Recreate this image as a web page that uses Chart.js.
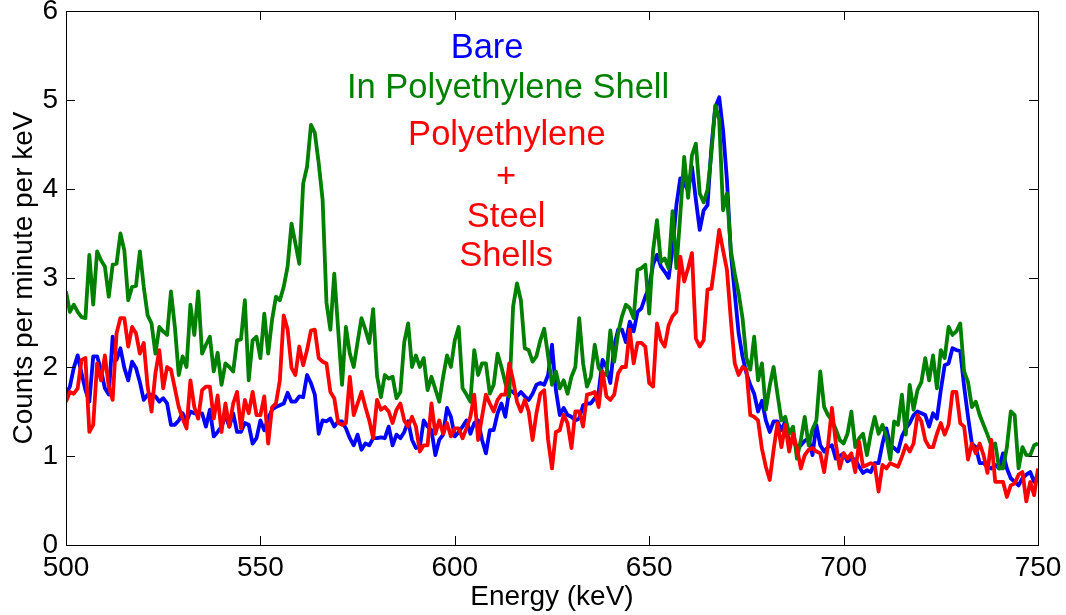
<!DOCTYPE html>
<html lang="en">
<head>
<meta charset="UTF-8">
<title>Gamma spectrum around 662 keV</title>
<script src="https://cdn.jsdelivr.net/npm/chart.js"></script>
<style>
    body { margin: 0; background: #ffffff; }
    #wrap { width: 1066px; height: 615px; }
</style>
</head>
<body>
<div id="wrap"><canvas id="spectrum" width="1066" height="615"></canvas></div>
<script>
// energy channels, 1 keV wide
const energies = Array.from({ length: 251 }, (_, i) => 500 + i);

// counts per minute per keV, one value per channel (500 ... 750 keV)
const bare = [
    1.70, 1.78, 1.99, 2.13, 1.93, 1.74, 1.61, 2.12, 2.12, 1.97,
    1.76, 1.69, 2.34, 2.08, 2.21, 1.99, 1.85, 2.06, 1.99, 1.83,
    1.63, 1.69, 1.69, 1.67, 1.61, 1.65, 1.59, 1.35, 1.35, 1.40,
    1.48, 1.39, 1.50, 1.48, 1.48, 1.48, 1.33, 1.52, 1.22, 1.27,
    1.33, 1.46, 1.33, 1.48, 1.27, 1.27, 1.37, 1.35, 1.14, 1.20,
    1.40, 1.29, 1.42, 1.52, 1.55, 1.57, 1.59, 1.71, 1.61, 1.61,
    1.67, 1.66, 1.91, 1.82, 1.69, 1.25, 1.40, 1.39, 1.42, 1.33,
    1.39, 1.39, 1.31, 1.20, 1.12, 1.24, 1.07, 1.14, 1.12, 1.20,
    1.20, 1.21, 1.20, 1.33, 1.12, 1.24, 1.20, 1.27, 1.39, 1.18,
    1.09, 1.10, 1.40, 1.33, 1.29, 1.01, 1.18, 1.24, 1.54, 1.44,
    1.22, 1.27, 1.33, 1.40, 1.25, 1.37, 1.40, 1.18, 1.03, 1.29,
    1.29, 1.48, 1.59, 1.44, 1.74, 1.72, 1.67, 1.72, 1.67, 1.63,
    1.70, 1.80, 1.82, 1.80, 1.91, 2.25, 1.74, 1.46, 1.54, 1.46,
    1.44, 1.40, 1.42, 1.57, 1.59, 1.59, 1.65, 1.72, 2.08, 2.00,
    1.82, 2.23, 2.42, 2.42, 2.28, 2.51, 2.40, 2.62, 2.66, 2.79,
    2.90, 3.15, 3.26, 3.13, 3.07, 3.00, 3.33, 3.82, 4.12, 4.06,
    3.99, 4.25, 3.88, 3.54, 3.76, 3.82, 4.47, 4.92, 5.03, 4.66,
    4.10, 3.28, 2.83, 2.38, 2.12, 1.93, 1.80, 1.70, 1.50, 1.62,
    1.40, 1.27, 1.39, 1.39, 1.29, 1.39, 1.14, 1.18, 1.09, 1.12,
    1.17, 1.20, 1.01, 1.35, 1.12, 1.05, 1.10, 1.12, 0.97, 1.00,
    1.03, 0.94, 0.97, 0.96, 0.88, 0.81, 0.84, 0.82, 0.92, 0.92,
    1.14, 1.31, 1.12, 1.09, 1.05, 1.22, 1.31, 1.37, 1.46, 1.50,
    1.48, 1.46, 1.33, 1.48, 1.42, 1.74, 2.02, 2.04, 2.21, 2.19,
    2.18, 1.78, 1.44, 1.14, 1.10, 0.92, 0.92, 0.88, 0.86, 0.90,
    0.86, 1.03, 0.86, 0.75, 0.71, 0.67, 0.75, 0.79, 0.82, 0.71,
    0.79
];

const polyShell = [
    2.85, 2.62, 2.70, 2.62, 2.56, 2.55, 3.26, 2.70, 3.30, 3.20,
    3.13, 2.79, 3.15, 3.16, 3.50, 3.31, 2.75, 2.90, 2.91, 3.30,
    2.90, 2.58, 2.49, 2.15, 2.45, 2.40, 2.36, 2.85, 2.45, 1.91,
    2.12, 2.00, 2.70, 2.36, 2.85, 2.15, 2.25, 2.34, 1.95, 2.16,
    1.80, 2.04, 2.00, 1.95, 2.30, 2.31, 2.75, 1.85, 2.30, 2.34,
    2.10, 2.60, 2.15, 2.53, 2.79, 2.75, 2.90, 3.13, 3.61, 3.39,
    3.16, 4.06, 4.25, 4.72, 4.63, 4.29, 3.88, 2.72, 2.42, 3.05,
    2.42, 1.80, 2.45, 2.15, 2.00, 2.28, 2.55, 2.42, 2.27, 2.65,
    1.90, 1.66, 1.91, 1.87, 1.89, 1.65, 1.72, 2.28, 2.49, 2.00,
    2.13, 2.00, 2.10, 1.74, 1.89, 1.75, 1.61, 1.89, 2.13, 2.00,
    2.30, 2.45, 1.76, 1.69, 1.61, 2.19, 1.91, 2.04, 2.04, 1.70,
    1.80, 2.15, 2.00, 1.82, 1.67, 2.68, 2.94, 2.75, 2.21, 2.19,
    2.06, 2.12, 2.30, 2.43, 2.12, 1.80, 1.95, 1.76, 1.85, 1.70,
    1.89, 2.00, 2.55, 2.04, 1.78, 1.89, 2.25, 1.99, 1.93, 1.91,
    2.41, 2.06, 2.38, 2.57, 2.70, 2.66, 2.55, 3.09, 3.11, 3.15,
    2.60, 3.31, 3.65, 3.18, 3.22, 3.11, 3.75, 3.11, 3.71, 4.36,
    3.90, 4.38, 4.51, 3.95, 3.85, 3.99, 4.40, 4.94, 4.78, 3.76,
    3.95, 3.31, 3.05, 2.83, 2.55, 2.10, 1.97, 2.34, 1.85, 2.04,
    1.52, 1.79, 2.00, 1.69, 1.40, 1.44, 1.25, 1.33, 0.97, 1.18,
    1.44, 1.12, 1.30, 1.40, 1.95, 1.55, 1.46, 1.40, 1.30, 1.18,
    1.14, 1.25, 1.50, 1.10, 1.20, 1.25, 1.01, 1.25, 1.44, 1.25,
    1.35, 1.22, 0.96, 1.39, 1.35, 1.69, 1.24, 1.80, 1.52, 1.74,
    1.83, 2.10, 1.85, 2.13, 1.76, 2.19, 2.10, 2.45, 2.36, 2.40,
    2.49, 1.95, 1.83, 1.55, 1.61, 1.46, 1.35, 1.24, 1.12, 1.14,
    0.86, 0.86, 1.10, 1.50, 1.46, 0.86, 1.10, 1.01, 1.01, 1.12,
    1.14
];

const polySteelShell = [
    1.61, 1.72, 1.70, 1.76, 2.08, 2.10, 1.27, 1.35, 2.04, 1.85,
    2.13, 1.78, 1.63, 2.38, 2.55, 2.55, 2.23, 2.45, 2.38, 2.15,
    2.27, 1.78, 1.50, 1.93, 2.19, 1.76, 2.00, 1.97, 1.76, 1.55,
    1.42, 1.31, 1.85, 1.55, 1.42, 1.74, 1.78, 1.78, 1.42, 1.68,
    1.27, 1.59, 1.33, 1.59, 1.72, 1.31, 1.63, 1.48, 1.72, 1.46,
    1.46, 1.67, 1.14, 1.55, 1.59, 1.85, 2.58, 2.42, 1.99, 1.91,
    2.23, 2.02, 2.19, 2.41, 2.42, 2.10, 2.06, 2.04, 1.72, 1.65,
    1.37, 1.35, 1.37, 1.89, 1.46, 1.59, 1.72, 1.55, 1.40, 1.20,
    1.63, 1.52, 1.55, 1.50, 1.37, 1.52, 1.59, 1.40, 1.33, 1.44,
    1.33, 1.05, 1.12, 1.12, 1.59, 1.25, 1.40, 1.25, 1.37, 1.22,
    1.31, 1.31, 1.20, 1.31, 1.44, 1.69, 1.18, 1.44, 1.69, 1.59,
    1.50, 1.63, 1.69, 1.69, 2.04, 1.85, 1.61, 1.50, 1.63, 1.50,
    1.18, 1.48, 1.70, 1.74, 1.18, 0.86, 1.27, 1.29, 1.46, 1.37,
    1.09, 1.50, 1.50, 1.33, 1.69, 1.70, 1.72, 1.55, 1.95, 1.67,
    1.63, 1.69, 1.93, 2.00, 2.00, 2.42, 2.04, 2.27, 2.27, 2.23,
    1.82, 1.78, 2.49, 2.30, 2.23, 2.47, 2.57, 2.62, 3.24, 2.96,
    3.11, 3.28, 2.32, 2.23, 2.30, 2.87, 2.88, 3.20, 3.54, 3.31,
    3.09, 2.53, 2.04, 1.91, 2.00, 1.97, 1.46, 1.44, 1.40, 1.08,
    0.88, 0.73, 1.07, 1.37, 1.10, 1.35, 1.05, 1.25, 1.09, 0.86,
    1.01, 1.07, 1.09, 1.05, 1.03, 0.82, 1.12, 1.54, 1.14, 0.86,
    1.03, 0.97, 1.03, 0.82, 1.16, 0.88, 0.90, 0.92, 0.90, 0.60,
    0.90, 0.86, 0.92, 0.90, 0.88, 0.99, 1.12, 1.05, 1.14, 1.46,
    1.39, 1.18, 1.10, 1.10, 1.25, 1.37, 1.24, 1.35, 1.72, 1.72,
    1.37, 1.33, 0.96, 1.14, 1.03, 1.14, 1.01, 0.81, 1.18, 0.71,
    0.71, 0.71, 0.54, 0.67, 0.69, 0.79, 0.82, 0.49, 0.71, 0.56,
    0.86
];

const xTicks = [500, 550, 600, 650, 700, 750];
const yTicks = [0, 1, 2, 3, 4, 5, 6];

// in-plot legend: text, colour, anchor in data units (keV, counts)
const notes = [
    { text: 'Bare', color: '#0000ff', x: 608.3, y: 5.47 },
    { text: 'In Polyethylene Shell', color: '#008000', x: 613.7, y: 5.02 },
    { text: 'Polyethylene', color: '#ff0000', x: 613.4, y: 4.49 },
    { text: '+', color: '#ff0000', x: 613.2, y: 4.02 },
    { text: 'Steel', color: '#ff0000', x: 613.2, y: 3.57 },
    { text: 'Shells', color: '#ff0000', x: 613.2, y: 3.13 }
];

const FONT = '"Liberation Sans", Arial, Helvetica, sans-serif';
const AXIS_FONT = { family: FONT, size: 28, lineHeight: 1.2 };

const toPoints = vals => vals.map((v, i) => ({ x: energies[i], y: v }));

// box around the axes with inward tick marks on all four sides
const boxTicks = {
    id: 'boxTicks',
    afterDatasetsDraw(chart) {
        const { ctx, chartArea: a, scales } = chart;
        const len = 9;
        ctx.save();
        ctx.strokeStyle = '#000000';
        ctx.lineWidth = 1;
        ctx.beginPath();
        xTicks.forEach(v => {
            const px = Math.round(scales.x.getPixelForValue(v)) + 0.5;
            ctx.moveTo(px, a.bottom); ctx.lineTo(px, a.bottom - len);
            ctx.moveTo(px, a.top); ctx.lineTo(px, a.top + len);
        });
        yTicks.forEach(v => {
            const py = Math.round(scales.y.getPixelForValue(v)) + 0.5;
            ctx.moveTo(a.left, py); ctx.lineTo(a.left + len, py);
            ctx.moveTo(a.right, py); ctx.lineTo(a.right - len, py);
        });
        ctx.stroke();
        ctx.strokeRect(Math.round(a.left) + 0.5, Math.round(a.top) + 0.5,
            Math.round(a.right - a.left), Math.round(a.bottom - a.top));

        ctx.font = '34.5px ' + FONT;
        ctx.textAlign = 'center';
        ctx.textBaseline = 'alphabetic';
        notes.forEach(n => {
            ctx.fillStyle = n.color;
            ctx.fillText(n.text, scales.x.getPixelForValue(n.x), scales.y.getPixelForValue(n.y));
        });
        ctx.restore();
    }
};

const line = (label, vals, color, order) => ({
    label,
    data: toPoints(vals),
    borderColor: color,
    backgroundColor: color,
    borderWidth: 3.8,
    borderJoinStyle: 'round',
    pointRadius: 0,
    tension: 0,
    order
});

// keep the plot box fixed: no extra room for half tick labels
const noEdgePadding = s => {
    s.paddingTop = 0; s.paddingBottom = 0;
    s.paddingLeft = 0; s.paddingRight = 0;
};

new Chart(document.getElementById('spectrum'), {
    type: 'line',
    data: {
        datasets: [
            line('Bare', bare, '#0000ff', 3),
            line('In Polyethylene Shell', polyShell, '#008000', 2),
            line('Polyethylene + Steel Shells', polySteelShell, '#ff0000', 1)
        ]
    },
    options: {
        responsive: false,
        animation: false,
        layout: { padding: { left: 0, right: 28, top: 11, bottom: 0 } },
        plugins: {
            legend: { display: false },
            tooltip: { enabled: false }
        },
        scales: {
            x: {
                type: 'linear',
                min: 500,
                max: 750,
                afterFit: s => { s.height = 70; noEdgePadding(s); },
                afterBuildTicks: s => { s.ticks = xTicks.map(v => ({ value: v })); },
                grid: { display: false, drawTicks: false },
                border: { display: false },
                ticks: { color: '#000', padding: 6, font: AXIS_FONT },
                title: {
                    display: true,
                    text: 'Energy (keV)',
                    color: '#000',
                    padding: { top: 0, bottom: 1 },
                    font: AXIS_FONT
                }
            },
            y: {
                min: 0,
                max: 6,
                afterFit: s => { s.width = 66; noEdgePadding(s); },
                afterBuildTicks: s => { s.ticks = yTicks.map(v => ({ value: v })); },
                grid: { display: false, drawTicks: false },
                border: { display: false },
                ticks: { color: '#000', padding: 8, font: AXIS_FONT },
                title: {
                    display: true,
                    text: 'Counts per minute per keV',
                    color: '#000',
                    padding: { top: 7, bottom: 0 },
                    font: AXIS_FONT
                }
            }
        }
    },
    plugins: [boxTicks]
});
</script>
</body>
</html>
